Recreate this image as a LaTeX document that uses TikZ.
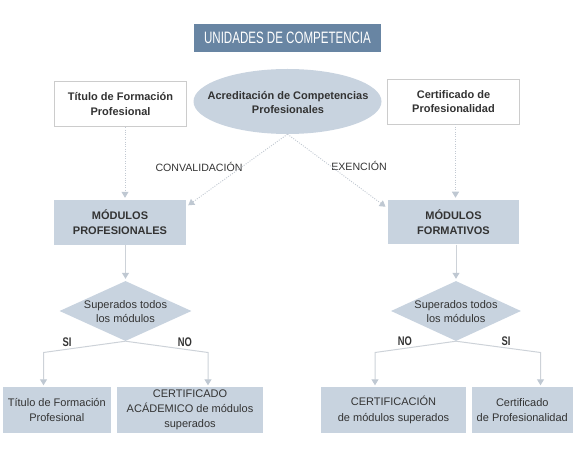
\documentclass[tikz,border=0pt]{standalone}
\usepackage{fontspec}
\usepackage{graphicx}
\setmainfont{Liberation Sans}
\usetikzlibrary{shapes.geometric,arrows.meta}
\definecolor{titlefill}{HTML}{6885A3}
\definecolor{boxfill}{HTML}{C8D3DF}
\definecolor{boxline}{HTML}{CCCCCC}
\definecolor{txt}{HTML}{333333}
\definecolor{lnc}{HTML}{CDD2D8}
\definecolor{dotc}{HTML}{C2C9D2}
\definecolor{tipc}{HTML}{BFC8D2}
\tikzset{
  base/.style={font=\fontsize{11}{14.5}\selectfont, text=txt, align=center, inner sep=0pt},
  whitebox/.style={base, draw=boxline, line width=0.8pt, fill=white, font=\fontsize{11}{14.5}\selectfont\bfseries},
  bluebox/.style={base, fill=boxfill},
  boldblue/.style={bluebox, font=\fontsize{11}{15}\selectfont\bfseries},
  bottombox/.style={bluebox, font=\fontsize{11}{15.3}\selectfont},
  titlebox/.style={fill=titlefill, text=white, inner sep=0pt, font=\fontsize{16.5}{18}\selectfont},
  ellnode/.style={ellipse, fill=boxfill, inner sep=0pt},
  dia/.style={diamond, fill=boxfill, inner sep=0pt},
  plaintext/.style={base},
  yesno/.style={text=txt, inner sep=0pt, font=\fontsize{12.5}{13}\selectfont\bfseries},
  tip/.style={-{Triangle[width=7pt,length=6pt,color=tipc]}},
  dotline/.style={tip, draw=dotc, line width=0.9pt, dash pattern=on 1pt off 1.4pt},
  solidline/.style={tip, draw=lnc, line width=1pt},
}
\begin{document}
\begin{tikzpicture}[x=1pt,y=-1pt]
\useasboundingbox (0,0) rectangle (582,465);

% top row
\node[titlebox, minimum width=187pt, minimum height=28pt] (title) at (287.5,38) {\scalebox{0.70}[1]{UNIDADES DE COMPETENCIA}};
\node[whitebox, minimum width=132pt, minimum height=45.5pt] (tfp) at (120.5,104) {Título de Formación\\Profesional};
\node[ellnode, minimum width=188pt, minimum height=65pt] (acr) at (287.5,101.5) {};
\node[base, font=\fontsize{11}{14.5}\selectfont\bfseries] (acrt) at (288,102.5) {Acreditación de Competencias\\Profesionales};
\node[whitebox, minimum width=131.5pt, minimum height=45pt] (cp) at (453.5,101.5) {Certificado de\\Profesionalidad};

% labels
\node[plaintext, font=\fontsize{10.6}{12}\selectfont] (conv) at (199,166.5) {CONVALIDACIÓN};
\node[plaintext, font=\fontsize{10.6}{12}\selectfont] (exen) at (359,166) {EXENCIÓN};

% modules
\node[boldblue, minimum width=132pt, minimum height=45pt] (mp) at (120,222.5) {MÓDULOS\\PROFESIONALES};
\node[boldblue, minimum width=131.5pt, minimum height=44.5pt] (mf) at (453.5,222.2) {MÓDULOS\\FORMATIVOS};

% diamonds
\node[dia, minimum width=132pt, minimum height=60pt] (d1) at (125.5,311) {};
\node[base] (d1t) at (125.5,311.5) {Superados todos\\los módulos};
\node[dia, minimum width=130pt, minimum height=60pt] (d2) at (456,311) {};
\node[base] (d2t) at (456,311.5) {Superados todos\\los módulos};

% yes/no labels
\node[yesno] (si1) at (67,342) {\scalebox{0.75}[1]{SI}};
\node[yesno] (no1) at (185,342) {\scalebox{0.75}[1]{NO}};
\node[yesno] (no2) at (405,341) {\scalebox{0.75}[1]{NO}};
\node[yesno] (si2) at (506,341) {\scalebox{0.75}[1]{SI}};

% bottom boxes
\node[bottombox, minimum width=108.5pt, minimum height=46pt] (b1) at (56.8,410) {Título de Formación\\Profesional};
\node[bottombox, minimum width=146pt, minimum height=46pt] (b2) at (190,410) {CERTIFICADO\\ACÁDEMICO de módulos\\superados};
\node[bottombox, minimum width=145pt, minimum height=46pt] (b3) at (393.5,410) {CERTIFICACIÓN\\de módulos superados};
\node[bottombox, minimum width=101pt, minimum height=46pt] (b4) at (522.3,410) {Certificado\\de Profesionalidad};

% helper coordinates
\coordinate (lx) at (125,0);
\coordinate (rx) at (455.5,0);
\coordinate (k1) at (43.5,352.5);
\coordinate (k2) at (208,352.5);
\coordinate (k3) at (375,352.5);
\coordinate (k4) at (540.5,352.5);

% connectors
\draw[dotline] (tfp.south -| lx) -- ([yshift=2pt]mp.north -| lx);
\draw[dotline] (cp.south -| rx) -- ([yshift=2pt]mf.north -| rx);
\draw[dotline] (acr.south) -- ([shift={(2,5.5)}]mp.north east);
\draw[dotline] (acr.south) -- ([shift={(-2,7)}]mf.north west);
\draw[solidline] (mp.south -| d1.north) -- ([yshift=2pt]d1.north);
\draw[solidline] (mf.south -| d2.north) -- ([yshift=2pt]d2.north);
\draw[solidline] (d1.south) -- (k1) -- ([yshift=1.5pt]k1 |- b1.north);
\draw[solidline] (d1.south) -- (k2) -- ([yshift=1.5pt]k2 |- b2.north);
\draw[solidline] (d2.south) -- (k3) -- ([yshift=1.5pt]k3 |- b3.north);
\draw[solidline] (d2.south) -- (k4) -- ([yshift=1.5pt]k4 |- b4.north);
\end{tikzpicture}
\end{document}
